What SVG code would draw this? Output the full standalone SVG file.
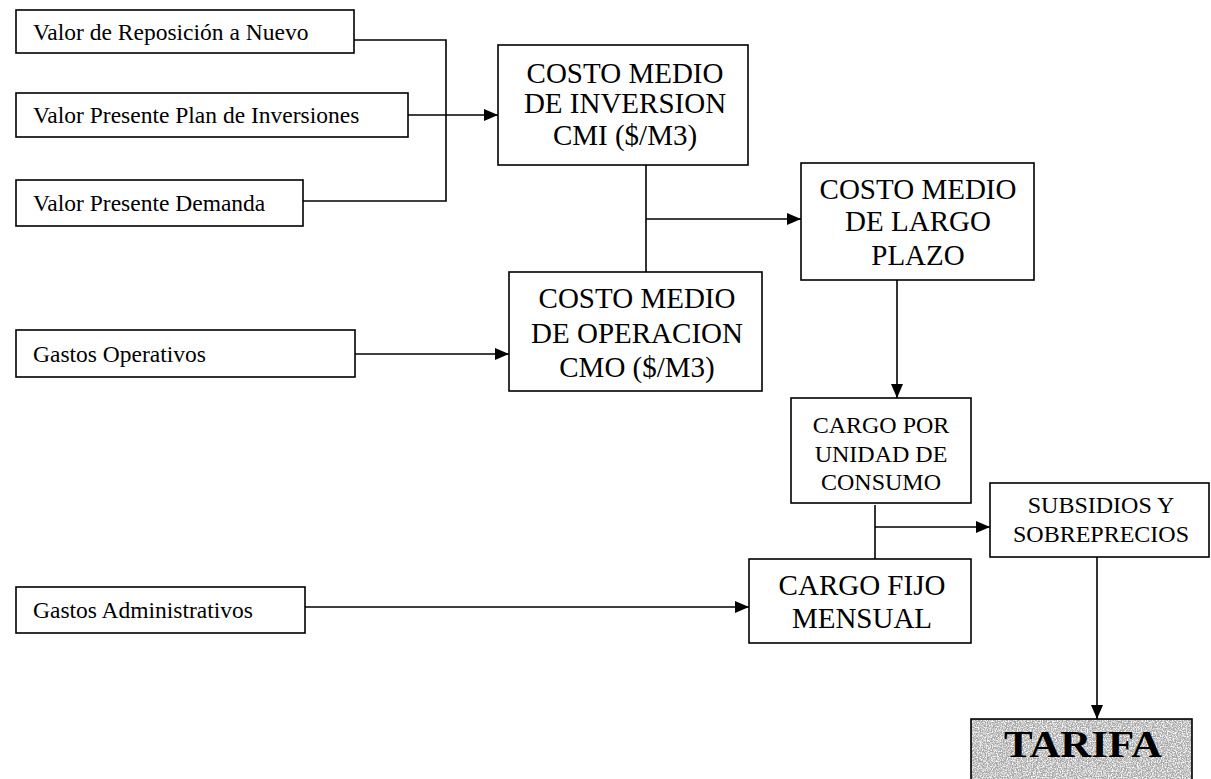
<svg xmlns="http://www.w3.org/2000/svg" width="1211" height="779" viewBox="0 0 1211 779">
<style>
.box{fill:#fff;stroke:#000;stroke-width:1.6}
.t{font-family:"Liberation Serif","Times New Roman",serif;fill:#000}
.s{font-size:23.5px}
.m{font-size:24px;text-anchor:middle}
.l{font-size:29px;text-anchor:middle}
.c{fill:none;stroke:#000;stroke-width:1.6}
</style>
<defs>
<marker id="ah" markerUnits="userSpaceOnUse" markerWidth="16" markerHeight="12" refX="14" refY="6" orient="auto">
<path d="M0,0 L14,6 L0,12 Z" fill="#000"/>
</marker>
<filter id="grain" x="0" y="0" width="1" height="1">
<feTurbulence type="fractalNoise" baseFrequency="0.8" numOctaves="2" seed="4" result="n"/>
<feColorMatrix in="n" type="matrix" values="0 0 0 0 0.95  0 0 0 0 0.95  0 0 0 0 0.95  0 0 0 -3 1.9" result="w"/>
<feComposite in="w" in2="SourceGraphic" operator="in"/>
</filter>
</defs>
<rect width="1211" height="779" fill="#fff"/>

<g id="connectors">
<path class="c" d="M354,40 H446 V201 H303"/>
<path class="c" d="M408,115 H498" marker-end="url(#ah)"/>
<path class="c" d="M646,165 V272"/>
<path class="c" d="M646,219 H801" marker-end="url(#ah)"/>
<path class="c" d="M355,354 H509" marker-end="url(#ah)"/>
<path class="c" d="M897,280 V398" marker-end="url(#ah)"/>
<path class="c" d="M875,505 V559"/>
<path class="c" d="M875,527 H990" marker-end="url(#ah)"/>
<path class="c" d="M305,607 H749" marker-end="url(#ah)"/>
<path class="c" d="M1097,557 V719" marker-end="url(#ah)"/>
</g>

<g id="n-reposicion">
<rect class="box" x="16" y="10" width="338" height="43"/>
<text class="t s" x="33" y="40">Valor de Reposición a Nuevo</text>
</g>
<g id="n-plan">
<rect class="box" x="16" y="93" width="392" height="44"/>
<text class="t s" x="33" y="123">Valor Presente Plan de Inversiones</text>
</g>
<g id="n-demanda">
<rect class="box" x="16" y="180" width="287" height="46"/>
<text class="t s" x="33" y="211">Valor Presente Demanda</text>
</g>
<g id="n-operativos">
<rect class="box" x="16" y="330" width="339" height="47"/>
<text class="t s" x="33" y="362">Gastos Operativos</text>
</g>
<g id="n-administrativos">
<rect class="box" x="16" y="587" width="289" height="46"/>
<text class="t s" x="33" y="618">Gastos Administrativos</text>
</g>
<g id="n-cmi">
<rect class="box" x="498" y="45" width="250" height="120"/>
<text class="t l" x="625" y="83">COSTO MEDIO</text>
<text class="t l" x="625" y="113">DE INVERSION</text>
<text class="t l" x="625" y="145">CMI ($/M3)</text>
</g>
<g id="n-cmo">
<rect class="box" x="509" y="272" width="253" height="119"/>
<text class="t l" x="637" y="308">COSTO MEDIO</text>
<text class="t l" x="637" y="343">DE OPERACION</text>
<text class="t l" x="637" y="377">CMO ($/M3)</text>
</g>
<g id="n-largo">
<rect class="box" x="801" y="163" width="233" height="117"/>
<text class="t l" x="918" y="199">COSTO MEDIO</text>
<text class="t l" x="918" y="231">DE LARGO</text>
<text class="t l" x="918" y="265">PLAZO</text>
</g>
<g id="n-cargo-unidad">
<rect class="box" x="791" y="398" width="180" height="105"/>
<text class="t m" x="881" y="433">CARGO POR</text>
<text class="t m" x="881" y="462">UNIDAD DE</text>
<text class="t m" x="881" y="490">CONSUMO</text>
</g>
<g id="n-cargo-fijo">
<rect class="box" x="749" y="559" width="222" height="84"/>
<text class="t l" x="862" y="595">CARGO FIJO</text>
<text class="t l" x="862" y="628">MENSUAL</text>
</g>
<g id="n-subsidios">
<rect class="box" x="990" y="483" width="219" height="74"/>
<text class="t m" x="1101" y="513">SUBSIDIOS Y</text>
<text class="t m" x="1101" y="542">SOBREPRECIOS</text>
</g>
<g id="n-tarifa">
<rect x="971" y="719" width="221" height="70" fill="#a4a4a4" stroke="#000" stroke-width="1.6"/>
<rect x="972" y="720" width="219" height="68" fill="#fff" filter="url(#grain)"/>
<text class="t" x="1004" y="757" font-size="37" font-weight="bold" textLength="158" lengthAdjust="spacingAndGlyphs">TARIFA</text>
</g>
</svg>
